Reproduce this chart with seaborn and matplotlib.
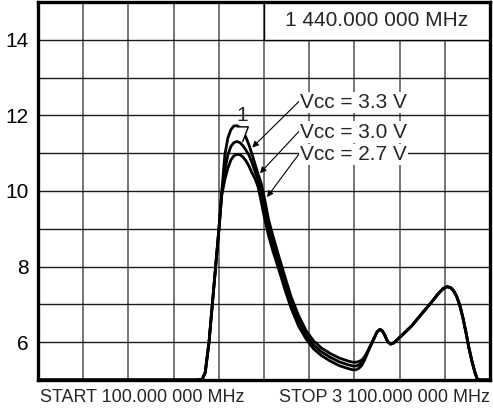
import numpy as np
import pandas as pd
import matplotlib
matplotlib.use("Agg")
import matplotlib.pyplot as plt
import seaborn as sns

# frequency axis (MHz): shared rising edge, split region, shared tail
freq_head = [100, 1150, 1190, 1210, 1235, 1257, 1279, 1301]
freq_mid = [1320, 1340, 1360, 1380, 1400, 1420, 1440, 1460, 1480, 1500, 1520, 1540,
            1560, 1580, 1600, 1630, 1660, 1700, 1740, 1780, 1830, 1880, 1930, 1980,
            2040, 2100, 2160, 2190, 2210, 2230, 2250, 2270, 2290]
freq_tail = [2310, 2330, 2350, 2370, 2385, 2400, 2420, 2440, 2460, 2480, 2520, 2580,
             2640, 2700, 2760, 2790, 2815, 2840, 2860, 2880, 2900, 2920, 2940, 2960,
             2980, 3000, 3015, 3030, 3100]

gain_head = [5.0, 5.0, 5.02, 5.2, 6.0, 7.0, 8.0, 9.0]
gain_33 = [10.0, 10.95, 11.4, 11.62, 11.72, 11.73, 11.68, 11.58, 11.42, 11.22, 10.98, 10.72,
           10.45, 10.22, 9.87, 9.25, 8.8, 8.25, 7.72, 7.2, 6.7, 6.3, 6.03, 5.85,
           5.7, 5.58, 5.5, 5.47, 5.47, 5.49, 5.53, 5.63, 5.78]
gain_30 = [9.95, 10.55, 10.95, 11.18, 11.28, 11.31, 11.28, 11.2, 11.08, 10.95, 10.75, 10.52,
           10.3, 10.05, 9.65, 9.02, 8.6, 8.08, 7.55, 7.05, 6.55, 6.18, 5.92, 5.75,
           5.6, 5.48, 5.4, 5.37, 5.37, 5.4, 5.46, 5.59, 5.76]
gain_27 = [9.9, 10.3, 10.6, 10.82, 10.93, 10.97, 10.96, 10.9, 10.8, 10.66, 10.48, 10.33,
           10.12, 9.75, 9.35, 8.82, 8.4, 7.9, 7.38, 6.9, 6.42, 6.08, 5.82, 5.65,
           5.5, 5.38, 5.3, 5.27, 5.27, 5.31, 5.39, 5.55, 5.74]
gain_tail = [5.93, 6.1, 6.27, 6.34, 6.3, 6.2, 6.02, 5.95, 5.98, 6.05, 6.2, 6.43,
             6.72, 7.0, 7.3, 7.42, 7.47, 7.44, 7.35, 7.2, 6.97, 6.65, 6.27, 5.85,
             5.5, 5.2, 5.03, 5.0, 5.0]

labels = ["Vᴄᴄ = 3.3 V", "Vᴄᴄ = 3.0 V", "Vᴄᴄ = 2.7 V"]
y_ticks = [6, 8, 10, 12, 14]
marker_freq = 1457
marker_text = "1 440.000 000 MHz"
start_text = "START 100.000 000 MHz"
stop_text = "STOP 3 100.000 000 MHz"

freq = freq_head + freq_mid + freq_tail
rows = []
for lab, g in zip(labels, [gain_33, gain_30, gain_27]):
    gain = gain_head + g + gain_tail
    rows.append(pd.DataFrame({"freq": freq, "gain": gain, "vcc": lab}))
df = pd.concat(rows, ignore_index=True)

sns.set_style("white")
plt.rcParams["font.family"] = ["Liberation Sans", "DejaVu Sans"]
FS = 15

fig = plt.figure(figsize=(4.93, 4.12), dpi=100)
ax = fig.add_axes([38 / 493, 32 / 412, 452 / 493, 378 / 412])

# grid
ax.set_xlim(100, 3100)
ax.set_ylim(5, 15)
ax.set_xticks(np.arange(100, 3101, 300))
ax.set_xticklabels([])
ax.set_yticks(y_ticks)
ax.set_yticks(np.arange(5, 16, 1), minor=True)
ax.tick_params(axis="both", which="both", length=0)
ax.tick_params(axis="y", labelsize=FS, pad=7, colors="black")
ax.grid(axis="x", which="major", color="#6a6a6a", lw=1.3)
ax.grid(axis="y", which="both", color="#1a1a1a", lw=1.0)
ax.set_axisbelow(True)
for s in ax.spines.values():
    s.set_linewidth(2.4)
    s.set_color("black")
    s.set_zorder(10)

# marker readout box
ax.add_patch(plt.Rectangle((1600, 14), 1500, 1, facecolor="white",
                           edgecolor="black", lw=1.0, zorder=1.5))
ax.text(2350, 14.5, marker_text, ha="center", va="center", fontsize=FS, zorder=3)

sns.lineplot(data=df, x="freq", y="gain", hue="vcc", palette=["black"] * 3,
             estimator=None, sort=False, legend=False, lw=2.0, ax=ax, zorder=4)
ax.set_xlabel("")
ax.set_ylabel("")

# marker 1
ax.plot([marker_freq], [11.52], marker=[(-0.38, 0.5), (0.38, 0.5), (0, -0.5)],
        markersize=11, markerfacecolor="white", markeredgecolor="black",
        markeredgewidth=1.0, ls="none", zorder=5)
ax.text(marker_freq, 12.0, "1", ha="center", va="center", fontsize=FS, zorder=5)

# supply voltage labels
label_y = [12.35, 11.56, 10.97]
tips = [(1522, 11.15), (1573, 10.47), (1620, 9.84)]
for lab, ly, tip in zip(labels, label_y, tips):
    ax.annotate(lab, xy=tip, xytext=(1840, ly), ha="left", va="center",
                fontsize=FS, zorder=6,
                bbox=dict(boxstyle="square,pad=0.05", fc="white", ec="none"),
                arrowprops=dict(arrowstyle="-|>", color="black", lw=0.8,
                                mutation_scale=9, shrinkA=0, shrinkB=0,
                                relpos=(0, 0.6)))

fig.text(40 / 493, 1 - 397 / 412, start_text, ha="left", va="center", fontsize=13)
fig.text(490 / 493, 1 - 397 / 412, stop_text, ha="right", va="center", fontsize=13)

fig.savefig("out.png", dpi=100)
